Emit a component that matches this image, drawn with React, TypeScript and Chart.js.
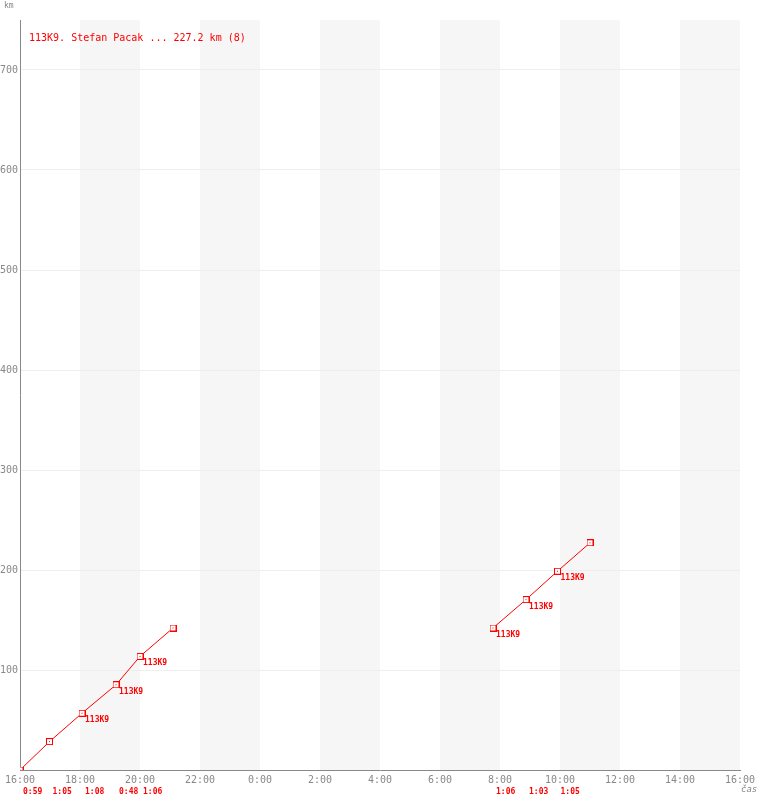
import React, { useEffect, useRef } from "react";
import { Chart, registerables } from "chart.js";

Chart.register(...registerables);

// ---- data ----
const titleText = "113K9. Stefan Pacak ... 227.2 km (8)";
const pilotLabel = "113K9";
const seg1Times = ["16:00", "16:59", "18:04", "19:12", "20:00", "21:06"];
const seg1Km = [0, 28.4, 56.8, 85.2, 113.6, 142.0];
const seg1Labeled = [false, false, true, true, true, false];
const seg1Legs = ["0:59", "1:05", "1:08", "0:48", "1:06"];
const seg2Times = ["07:46", "08:52", "09:55", "11:00"];
const seg2Km = [142.0, 170.4, 198.8, 227.2];
const seg2Labeled = [true, true, true, false];
const seg2Legs = ["1:06", "1:03", "1:05"];
const xTickHours = [16, 18, 20, 22, 24, 26, 28, 30, 32, 34, 36, 38, 40];
const xTickLabels = ["16:00", "18:00", "20:00", "22:00", "0:00", "2:00", "4:00", "6:00", "8:00", "10:00", "12:00", "14:00", "16:00"];
const yTicks = [0, 100, 200, 300, 400, 500, 600, 700];
const bandStarts = [18, 22, 26, 30, 34, 38];
const yAxisTitle = "km";
const xAxisTitle = "čas";

const MONO = "'DejaVu Sans Mono', monospace";
const RED = "#ff0000";
const GRAY = "#888888";

function toHours(t: string, nextDay: boolean): number {
  const [h, m] = t.split(":").map(Number);
  return h + m / 60 + (nextDay ? 24 : 0);
}

function makePoint(): HTMLCanvasElement {
  const c = document.createElement("canvas");
  c.width = 7;
  c.height = 7;
  const g = c.getContext("2d")!;
  g.fillStyle = RED;
  g.fillRect(0, 0, 7, 7);
  g.fillStyle = "#ffffff";
  g.fillRect(1, 1, 5, 5);
  g.fillStyle = RED;
  g.fillRect(3, 3, 1, 1);
  return c;
}

export default function App() {
  const ref = useRef<HTMLCanvasElement | null>(null);

  useEffect(() => {
    document.body.style.margin = "0";
    const seg1 = seg1Times.map((t, i) => ({ x: toHours(t, false), y: seg1Km[i] }));
    const seg2 = seg2Times.map((t, i) => ({ x: toHours(t, true), y: seg2Km[i] }));
    const pt = makePoint();

    const overlay = {
      id: "overlay",
      beforeDraw(chart: any) {
        const { ctx, chartArea } = chart;
        const xs = chart.scales.x;
        ctx.save();
        ctx.fillStyle = "#f6f6f6";
        bandStarts.forEach((b) => {
          const x0 = xs.getPixelForValue(b);
          const x1 = xs.getPixelForValue(b + 2);
          ctx.fillRect(x0, chartArea.top, x1 - x0, chartArea.bottom - chartArea.top);
        });
        ctx.restore();
      },
      afterDraw(chart: any) {
        const { ctx } = chart;
        const xs = chart.scales.x;
        const ys = chart.scales.y;
        ctx.save();
        // title
        ctx.fillStyle = RED;
        ctx.font = `10px ${MONO}`;
        ctx.textBaseline = "middle";
        ctx.textAlign = "left";
        ctx.fillText(titleText, 29, 38);
        // axis titles
        ctx.fillStyle = GRAY;
        ctx.font = `8px ${MONO}`;
        ctx.fillText(yAxisTitle, 4, 6);
        ctx.font = `italic 9px ${MONO}`;
        ctx.fillText(xAxisTitle, 741, 790);
        // point labels
        ctx.fillStyle = RED;
        ctx.font = `bold 8px ${MONO}`;
        const drawPts = (pts: { x: number; y: number }[], flags: boolean[]) => {
          pts.forEach((p, i) => {
            if (!flags[i]) return;
            const px = xs.getPixelForValue(p.x);
            const py = ys.getPixelForValue(p.y);
            ctx.fillText(pilotLabel, px + 3, py + 7);
          });
        };
        drawPts(seg1, seg1Labeled);
        drawPts(seg2, seg2Labeled);
        // leg durations
        const drawLegs = (pts: { x: number; y: number }[], legs: string[]) => {
          legs.forEach((l, i) => {
            const px = xs.getPixelForValue(pts[i].x);
            ctx.fillText(l, px + 3, 792);
          });
        };
        drawLegs(seg1, seg1Legs);
        drawLegs(seg2, seg2Legs);
        ctx.restore();
      },
    };

    const dsStyle = {
      borderColor: RED,
      borderWidth: 1,
      pointStyle: pt,
      pointRadius: 3,
      fill: false,
      tension: 0,
    };

    const chart = new Chart(ref.current!, {
      type: "line",
      data: {
        datasets: [
          { ...dsStyle, data: seg1 },
          { ...dsStyle, data: seg2 },
        ],
      },
      options: {
        responsive: false,
        animation: false,
        layout: { padding: { top: 20, right: 20, left: 0, bottom: 0 } },
        plugins: { legend: { display: false }, tooltip: { enabled: false } },
        scales: {
          x: {
            type: "linear",
            min: 16,
            max: 40,
            afterBuildTicks: (s: any) => {
              s.ticks = xTickHours.map((v) => ({ value: v }));
            },
            afterFit: (s: any) => {
              s.height = 30;
            },
            grid: { display: false, drawTicks: false },
            border: { display: true, color: GRAY, width: 1 },
            ticks: {
              autoSkip: false,
              maxRotation: 0,
              padding: 4,
              color: GRAY,
              font: { family: MONO, size: 10 },
              callback: (v: any) => {
                const i = xTickHours.indexOf(Number(v));
                return i >= 0 ? xTickLabels[i] : "";
              },
            },
          },
          y: {
            type: "linear",
            min: 0,
            max: 750,
            afterBuildTicks: (s: any) => {
              s.ticks = yTicks.map((v) => ({ value: v }));
            },
            afterFit: (s: any) => {
              s.width = 20;
            },
            grid: {
              drawTicks: false,
              color: (c: any) => (c.tick && c.tick.value === 0 ? "rgba(0,0,0,0)" : "#eeeeee"),
            },
            border: { display: true, color: GRAY, width: 1 },
            ticks: {
              padding: 2,
              color: GRAY,
              font: { family: MONO, size: 10 },
              callback: (v: any) => (Number(v) === 0 ? "" : String(v)),
            },
          },
        },
      },
      plugins: [overlay],
    } as any);

    return () => chart.destroy();
  }, []);

  return <canvas ref={ref} width={760} height={800} style={{ display: "block" }} />;
}
